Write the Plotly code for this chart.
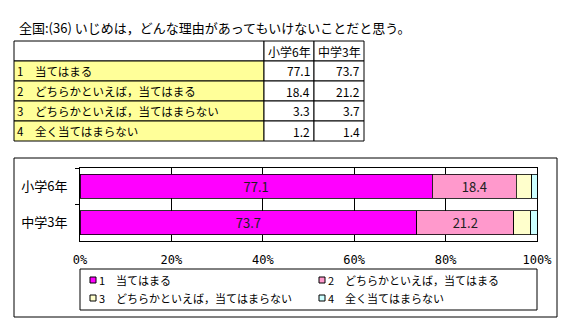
import plotly.graph_objects as go

W, H = 566, 319
title = "全国:(36) いじめは，どんな理由があってもいけないことだと思う。"
groups = ["小学6年", "中学3年"]
series = ["1　当てはまる", "2　どちらかといえば，当てはまる", "3　どちらかといえば，当てはまらない", "4　全く当てはまらない"]
values = {
    "小学6年": [77.1, 18.4, 3.3, 1.2],
    "中学3年": [73.7, 21.2, 3.7, 1.4],
}
colors = ["#FF00FF", "#FF99CC", "#FFFFCC", "#CCFFFF"]
show_label = [True, True, False, False]
x_ticks = [0, 20, 40, 60, 80, 100]

JP = "Noto Sans CJK JP"

def px(x):
    return x / W

def py(y):
    return 1 - y / H

fig = go.Figure()
for i, s in enumerate(series):
    vals = [values[g][i] for g in groups]
    fig.add_trace(go.Bar(
        y=groups, x=vals, orientation="h", name=s,
        marker=dict(color=colors[i], line=dict(color="black", width=0.8)),
        text=[f"{v:.1f}" for v in vals] if show_label[i] else None,
        textposition="inside" if show_label[i] else "none",
        insidetextanchor="middle", textangle=0,
        textfont=dict(family=JP, size=13, color="#202020"),
        constraintext="none",
        showlegend=False, hoverinfo="x+name",
    ))

shapes = []
annotations = []

# title
annotations.append(dict(x=px(17), y=py(27), xref="paper", yref="paper", text=title,
                        showarrow=False, xanchor="left", yanchor="middle",
                        font=dict(family=JP, size=13, color="black")))

# table
col_x = [14, 264, 314, 364]
row_y = [41, 61, 81, 101, 121, 141]
for r in range(5):
    for c in range(3):
        fill = "#FFFF99" if (c == 0 and r > 0) else "white"
        shapes.append(dict(type="rect", xref="paper", yref="paper",
                           x0=px(col_x[c]), x1=px(col_x[c + 1]),
                           y0=py(row_y[r + 1]), y1=py(row_y[r]),
                           fillcolor=fill, line=dict(color="black", width=1), layer="below"))
for c, g in enumerate(groups):
    annotations.append(dict(x=px((col_x[c + 1] + col_x[c + 2]) / 2), y=py((row_y[0] + row_y[1]) / 2),
                            xref="paper", yref="paper", text=g, showarrow=False,
                            xanchor="center", yanchor="middle",
                            font=dict(family=JP, size=12, color="black")))
for r, s in enumerate(series):
    yc = py((row_y[r + 1] + row_y[r + 2]) / 2)
    annotations.append(dict(x=px(15), y=yc, xref="paper", yref="paper", text=s,
                            showarrow=False, xanchor="left", yanchor="middle",
                            font=dict(family=JP, size=11.5, color="black")))
    for c, g in enumerate(groups):
        annotations.append(dict(x=px(col_x[c + 2] - 2), y=yc, xref="paper", yref="paper",
                                text=f"{values[g][r]:.1f}", showarrow=False,
                                xanchor="right", yanchor="middle",
                                font=dict(family=JP, size=12, color="black")))

# chart frame
shapes.append(dict(type="rect", xref="paper", yref="paper", x0=px(14), x1=px(557),
                   y0=py(317), y1=py(158), line=dict(color="black", width=1), layer="below"))

# legend box
shapes.append(dict(type="rect", xref="paper", yref="paper", x0=px(80), x1=px(537),
                   y0=py(310), y1=py(269), line=dict(color="black", width=1), fillcolor="white", layer="below"))
leg_pos = [(90, 280), (319, 280), (90, 298), (319, 298)]
for i, s in enumerate(series):
    lx, ly = leg_pos[i]
    shapes.append(dict(type="rect", xref="paper", yref="paper", x0=px(lx), x1=px(lx + 6),
                       y0=py(ly + 3), y1=py(ly - 3), fillcolor=colors[i],
                       line=dict(color="black", width=1)))
    annotations.append(dict(x=px(lx + 7), y=py(ly), xref="paper", yref="paper",
                            text=s, showarrow=False, xanchor="left", yanchor="middle",
                            font=dict(family=JP, size=11, color="black")))

fig.update_layout(
    width=W, height=H, margin=dict(l=0, r=0, t=0, b=0, pad=0, autoexpand=False),
    paper_bgcolor="white", plot_bgcolor="white",
    barmode="stack", bargap=0.34,
    shapes=shapes, annotations=annotations,
    uniformtext=dict(mode=False),
    xaxis=dict(domain=[px(80), px(537)], range=[0, 100], tickvals=x_ticks,
               ticktext=[f"{t}%" for t in x_ticks], automargin=False,
               showgrid=True, gridcolor="black", gridwidth=1,
               showline=True, linecolor="black", linewidth=1, mirror=True,
               zeroline=False, ticks="", ticklabelstandoff=8,
               tickfont=dict(family="DejaVu Sans Mono", size=12, color="black")),
    yaxis=dict(domain=[py(241), py(168)], autorange="reversed", automargin=False,
               showline=True, linecolor="black", linewidth=1, mirror=True,
               ticks="outside", ticklen=4, tickcolor="black", tickson="boundaries",
               showgrid=False, ticklabelstandoff=9,
               tickfont=dict(family=JP, size=13, color="black")),
)

fig.write_html("out.html")
